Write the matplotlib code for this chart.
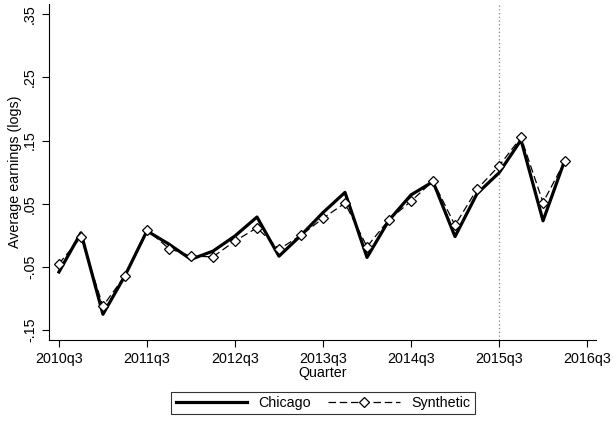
import matplotlib.pyplot as plt
from matplotlib.ticker import FixedLocator

plt.rcParams['font.family'] = ['Liberation Sans', 'DejaVu Sans']

# quarters 2010q3 .. 2016q2
quarters = list(range(24))
chicago = [-0.058, 0.004, -0.125, -0.064, 0.007, -0.014, -0.038, -0.025,
           -0.001, 0.029, -0.033, 0.000, 0.036, 0.068, -0.035, 0.024,
           0.064, 0.085, -0.002, 0.066, 0.099, 0.151, 0.023, 0.120]
synthetic = [-0.045, -0.003, -0.112, -0.064, 0.009, -0.021, -0.033, -0.034,
             -0.009, 0.012, -0.022, 0.000, 0.027, 0.051, -0.018, 0.025,
             0.054, 0.086, 0.016, 0.073, 0.110, 0.155, 0.052, 0.118]
tick_pos = [0, 4, 8, 12, 16, 20, 24]
tick_labels = ['2010q3', '2011q3', '2012q3', '2013q3', '2014q3', '2015q3', '2016q3']
y_ticks = [-0.15, -0.05, 0.05, 0.15, 0.25, 0.35]
y_labels = ['-.15', '-.05', '.05', '.15', '.25', '.35']
treat_q = 20
fs = 10.3

fig = plt.figure(figsize=(6.13, 4.21), dpi=100)
ax = fig.add_axes([0.080, 0.192, 0.892, 0.798])

ax.axvline(treat_q, color='#888888', linestyle=(0, (1, 2)), linewidth=0.9, zorder=1)
ax.plot(quarters, chicago, color='black', linewidth=2.3, label='Chicago', zorder=3)
ax.plot(quarters, synthetic, color='black', linewidth=0.9, linestyle=(0, (6, 3)),
        marker='D', markersize=5.5, markerfacecolor='white', markeredgecolor='black',
        markeredgewidth=0.9, label='Synthetic', zorder=4)

ax.set_xlim(-0.45, 24.4)
ax.set_ylim(-0.166, 0.366)
ax.xaxis.set_major_locator(FixedLocator(tick_pos))
ax.set_xticklabels(tick_labels, fontsize=fs)
ax.yaxis.set_major_locator(FixedLocator(y_ticks))
ax.set_yticklabels(y_labels, fontsize=fs, rotation=90, va='center')
ax.tick_params(direction='out', length=5, width=0.8)
for s in ['top', 'right']:
    ax.spines[s].set_visible(False)
ax.spines['left'].set_linewidth(0.8)
ax.spines['bottom'].set_linewidth(0.8)

ax.set_xlabel('Quarter', fontsize=fs, labelpad=0)
ax.set_ylabel('Average earnings (logs)', fontsize=fs, labelpad=1)

leg = fig.legend(loc='center', bbox_to_anchor=(0.527, 0.043), ncol=2, fontsize=fs,
                 frameon=True, fancybox=False, edgecolor='black', handlelength=5,
                 columnspacing=1.2, borderpad=0.3)
leg.get_frame().set_linewidth(0.8)

fig.savefig('out.png', dpi=100)
